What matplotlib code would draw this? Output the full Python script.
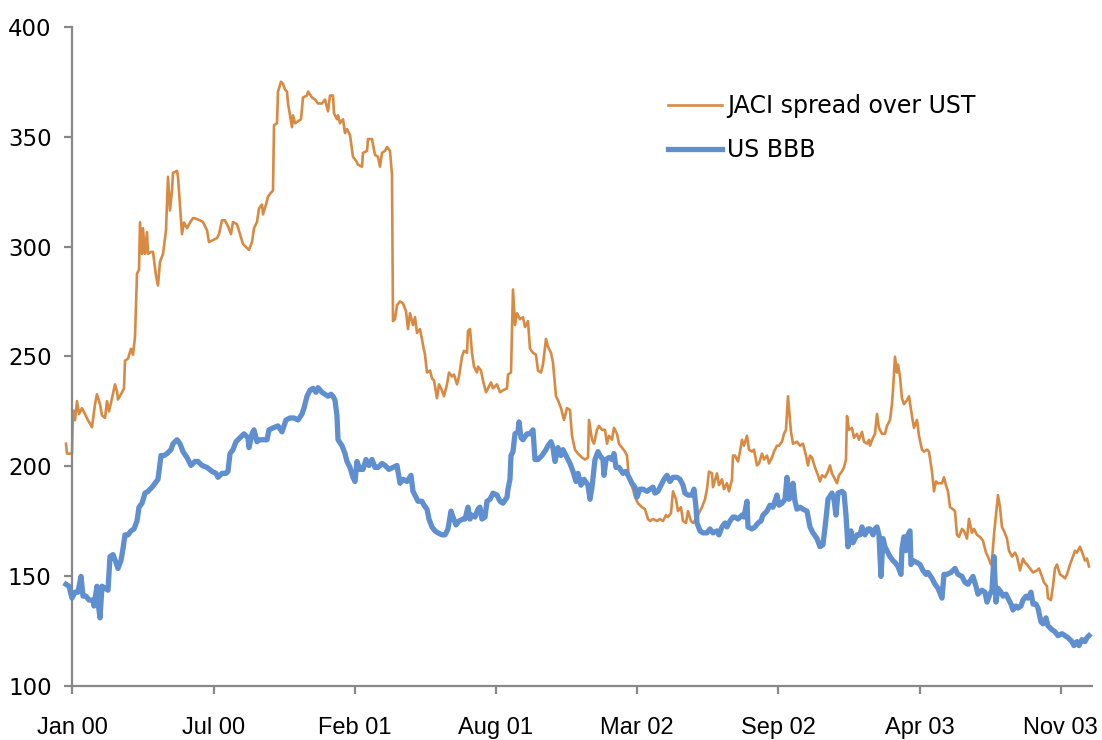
import matplotlib
matplotlib.use("Agg")
import matplotlib.pyplot as plt

# trading-day index (x) and spread in bp
jaci_x = [1, 2, 7, 8, 10, 12, 14, 17, 20, 23, 27, 30, 32, 35, 37, 40, 42, 44, 47, 50,
          52, 53, 57, 59, 60, 63, 66, 68, 70, 72, 74, 75, 77, 78, 80, 82, 83, 86, 88, 91,
          93, 95, 98, 101, 103, 105, 107, 108, 112, 113, 117, 119, 122, 125, 128, 130, 135, 138, 142, 144,
          148, 152, 154, 157, 160, 163, 166, 168, 172, 175, 178, 182, 184, 187, 189, 192, 194, 197, 198, 201,
          203, 206, 208, 209, 212, 213, 216, 218, 220, 222, 223, 225, 227, 228, 230, 233, 236, 238, 242, 243,
          247, 250, 253, 257, 260, 263, 265, 268, 269, 272, 273, 275, 278, 280, 282, 285, 288, 291, 293, 297,
          298, 302, 303, 307, 310, 313, 315, 317, 320, 322, 325, 327, 328, 330, 332, 335, 338, 341, 343, 345,
          348, 350, 352, 355, 358, 360, 362, 365, 367, 369, 372, 374, 377, 379, 382, 384, 387, 389, 392, 394,
          397, 399, 402, 403, 405, 407, 409, 412, 413, 416, 418, 421, 423, 426, 428, 432, 435, 438, 442, 443,
          446, 448, 450, 452, 455, 458, 460, 463, 465, 468, 471, 473, 476, 478, 481, 483, 486, 488, 491, 493,
          496, 499, 502, 505, 507, 510, 513, 517, 520, 523, 524, 527, 529, 532, 534, 537, 540, 542, 544, 547,
          549, 552, 554, 557, 560, 562, 564, 568, 570, 573, 577, 580, 583, 585, 588, 592, 595, 598, 601, 603,
          606, 608, 611, 613, 616, 618, 621, 623, 626, 628, 631, 633, 637, 640, 642, 644, 647, 648, 652, 654,
          657, 659, 662, 664, 667, 668, 670, 673, 675, 677, 679, 682, 684, 687, 689, 692, 694, 697, 699, 702,
          704, 707, 709, 712, 714, 717, 719, 721, 723, 724, 726, 728, 732, 735, 738, 741, 743, 745, 747, 750,
          753, 755, 757, 760, 763, 765, 767, 770, 772, 774, 777, 779, 781, 782, 784, 787, 789, 792, 794, 797,
          799, 802, 804, 805, 808, 810, 812, 814, 817, 820, 822, 825, 827, 828, 830, 832, 833, 835, 837, 839,
          842, 844, 847, 849, 852, 854, 857, 859, 862, 864, 867, 869, 871, 873, 877, 879, 881, 883, 885, 888,
          890, 892, 894, 897, 899, 902, 904, 907, 909, 912, 915, 918, 921, 923, 926, 927, 929, 931, 933, 935,
          937, 939, 942, 944, 947, 950, 952, 955, 958, 960, 962, 965, 968, 972, 974, 977, 979, 982, 983, 986,
          988, 990, 992, 995, 998, 1000, 1002, 1005, 1008, 1010, 1012, 1015, 1018, 1020, 1022, 1024]
jaci_y = [210.3, 205.8, 205.8, 225.6, 221, 229.7, 223.8, 226.5, 223.8, 221, 217.8, 228.3, 232.8, 228.3, 223.2, 222, 229.7, 225, 231, 237.3,
          234.1, 230.4, 233.7, 235.5, 248.1, 249, 253.5, 250.8, 258.9, 287.7, 289.5, 311.1, 296.7, 308.4, 296.7, 306.6, 296.7, 297.6, 297.6, 286.8,
          282.3, 293.1, 296.7, 307.5, 331.8, 316.5, 325.5, 333.6, 334.5, 331.8, 305.7, 311, 308.4, 311, 313, 312.9, 312, 311.2, 307.5, 302.1,
          303, 303.9, 305.7, 312, 312, 309.3, 305.7, 311.2, 310.2, 305.7, 301.2, 299.4, 298.5, 302.1, 308.4, 311.2, 317.4, 319.2, 314.7, 319.2,
          322.8, 324.6, 325.5, 355.3, 356.2, 370.6, 375.1, 374.2, 371.5, 370.6, 365.2, 359.8, 354.4, 359.8, 356.2, 357.1, 358, 367.9, 368.8, 370.6,
          367.9, 367, 365.2, 365.2, 367, 361.6, 368.8, 368.8, 360.7, 358, 359.8, 356.2, 358, 351.7, 353.5, 350.8, 340.9, 339.1, 337.3, 336.4,
          342.7, 343.6, 349, 349, 341.8, 340.9, 336.4, 342.7, 343.6, 345.4, 343.6, 332.7, 266.1, 267, 273.3, 275.1, 274.2, 270.6, 262.5, 269.7,
          264.3, 267.9, 260.7, 262.5, 255.3, 250.8, 242.7, 243.6, 240, 239.1, 231, 237.3, 234.6, 231.9, 237.3, 242.7, 240.9, 241.8, 237.3, 240.9,
          249.9, 252.6, 251.7, 261.6, 262.5, 251.7, 245.4, 242.7, 245.4, 243.6, 239.1, 233.7, 235.5, 238.2, 235.5, 237.3, 233.7, 234.6, 235.5, 241.8,
          242.7, 280.5, 264.3, 269.7, 267, 267.9, 263.4, 266.1, 253.5, 251.7, 250.8, 243.6, 242.7, 246.3, 258, 254.4, 251.7, 247.2, 231.9, 230.1,
          226.5, 221.1, 226.5, 225.6, 213.9, 207.6, 205.8, 204, 203.1, 204, 221.1, 212.1, 210.3, 216.6, 218.4, 216.6, 216.6, 210.3, 213.9, 212.1,
          217.5, 214.8, 210.3, 208.5, 206.7, 204.9, 194.1, 189.6, 186, 183.2, 181.4, 180.5, 176, 175.1, 176, 175.1, 176, 175.1, 177.8, 176.9,
          178.7, 188.6, 185, 179.6, 181.4, 175.1, 174.2, 179.6, 175.1, 174.2, 176, 177.8, 181.4, 185, 189.6, 197.6, 196.8, 190.5, 196.8, 191.4,
          194.1, 189.6, 192.3, 188.6, 194.1, 204.9, 204.9, 202.2, 206.7, 212.1, 209.4, 213.9, 207.6, 206.7, 207.6, 200.4, 201.3, 205.8, 203.1, 204.9,
          201.3, 204, 206.7, 209.4, 209.4, 211.2, 214.8, 216.6, 231.9, 226.5, 215.7, 210.3, 211.2, 209.4, 210.3, 204.9, 200.4, 204.9, 204, 199.5,
          195.9, 193.1, 195.9, 195, 197.7, 200.4, 196.8, 194.1, 192.3, 195.9, 197.7, 199.5, 203.1, 222.9, 216.6, 217.5, 213, 214.8, 212.1, 215.7,
          211.2, 210.3, 212.1, 209.4, 213, 214.8, 223.8, 217.5, 214.8, 214.8, 218.4, 221.1, 228.3, 234.6, 249.9, 242.7, 246.3, 240.9, 230.9, 228.3,
          230.1, 231.9, 222.9, 217.5, 221.1, 213.9, 207.6, 206.7, 207.6, 206.7, 197.7, 188.6, 193.1, 192.3, 192.3, 195, 191.4, 188.6, 181.4, 180.5,
          179.6, 168.8, 167.9, 171.5, 170.6, 167.1, 176.1, 169.7, 171.5, 168.8, 167.9, 166.1, 160.7, 158.9, 155.3, 157.1, 168.8, 177.8, 186.9, 181.4,
          172.4, 170.6, 167.1, 161.6, 158.9, 160.7, 158.9, 152.6, 158, 156.2, 155.3, 153.5, 151.7, 152.6, 153.5, 149.9, 147.2, 145.4, 140, 139.1,
          145.4, 153.5, 155.3, 150.8, 149.9, 149, 150.8, 155.3, 158.9, 161.6, 160.7, 163.4, 159.8, 157.1, 158, 154.4]

bbb_x = [1, 4, 7, 10, 13, 16, 18, 21, 24, 28, 29, 32, 33, 35, 37, 40, 43, 45, 48, 51,
         53, 56, 58, 60, 63, 66, 69, 72, 74, 77, 80, 83, 87, 90, 93, 96, 99, 102, 106, 108,
         112, 115, 118, 122, 126, 130, 133, 137, 142, 147, 151, 153, 157, 161, 163, 165, 168, 171, 175, 179,
         183, 184, 187, 189, 192, 194, 198, 202, 204, 208, 213, 217, 221, 225, 229, 233, 237, 239, 242, 245,
         248, 251, 253, 257, 260, 263, 266, 268, 270, 272, 273, 277, 280, 282, 285, 288, 290, 292, 295, 298,
         301, 304, 307, 310, 313, 317, 320, 324, 328, 332, 335, 338, 342, 346, 348, 351, 353, 357, 359, 362,
         364, 367, 370, 373, 377, 380, 383, 386, 388, 391, 394, 398, 400, 403, 405, 407, 410, 413, 415, 417,
         420, 422, 425, 428, 432, 435, 438, 442, 443, 445, 446, 448, 450, 453, 454, 456, 458, 462, 465, 468,
         470, 473, 477, 481, 483, 486, 488, 490, 493, 496, 498, 502, 505, 508, 511, 513, 516, 519, 523, 525,
         527, 530, 533, 535, 538, 539, 541, 544, 547, 549, 551, 554, 558, 561, 564, 567, 570, 572, 575, 578,
         582, 585, 588, 590, 593, 596, 599, 602, 605, 608, 612, 615, 618, 620, 623, 627, 629, 631, 632, 635,
         638, 642, 645, 648, 652, 654, 657, 660, 662, 665, 668, 670, 673, 677, 679, 682, 683, 687, 690, 693,
         696, 698, 702, 705, 708, 712, 714, 717, 720, 722, 724, 727, 728, 730, 732, 735, 738, 742, 745, 748,
         752, 755, 758, 761, 763, 767, 769, 771, 773, 777, 779, 781, 783, 786, 788, 792, 795, 797, 800, 803,
         805, 808, 810, 812, 814, 816, 818, 820, 822, 825, 828, 830, 833, 836, 837, 839, 841, 843, 845, 846,
         848, 852, 855, 858, 861, 863, 867, 870, 873, 877, 879, 882, 886, 890, 893, 897, 900, 903, 908, 911,
         913, 917, 920, 922, 925, 927, 929, 931, 933, 936, 938, 941, 943, 946, 948, 951, 953, 956, 958, 961,
         963, 966, 968, 971, 973, 976, 978, 981, 983, 987, 990, 993, 997, 1000, 1003, 1007, 1009, 1012, 1014, 1017,
         1020, 1022, 1024]
bbb_y = [146.3, 145.4, 140, 142.7, 142.7, 149.9, 140.9, 140.9, 139.1, 139.1, 136.4, 145.4, 138.2, 131, 145.4, 144.5, 143.6, 158.9, 159.8, 156.2,
         153.5, 157.1, 162.5, 168.8, 168.8, 170.6, 171.5, 175.1, 181.4, 183.2, 187.8, 188.6, 190.5, 192.3, 194.1, 204.9, 204.9, 205.8, 207.6, 210.3,
         212.1, 210.3, 206.7, 204, 200.4, 202.2, 202.2, 200.4, 199.5, 197.7, 196.8, 195, 196.8, 196.8, 197.7, 205.8, 207.6, 211.2, 213, 214.8,
         213, 208.5, 214.8, 216.6, 211.2, 212.1, 212.1, 212.1, 216.6, 217.5, 218.4, 215.7, 221.1, 222, 222, 221.1, 223.8, 226.5, 231.9, 234.6,
         235.5, 233.7, 235.8, 233.7, 232.8, 231.9, 232.8, 231.9, 230.1, 222.9, 212.1, 209.4, 205.8, 202.2, 199.5, 195, 193.1, 202.2, 198.6, 198.6,
         203.1, 200.4, 203.1, 199.5, 199.5, 201.3, 200.4, 198.6, 199.5, 200.4, 192.3, 194.1, 193.1, 195.9, 188.6, 186, 184.1, 184.1, 182.3, 180.5,
         176, 172.4, 170.6, 169.7, 168.8, 168.8, 171.5, 179.6, 176.9, 173.3, 175.1, 176, 176, 181.4, 176, 177.8, 176.9, 180.5, 181.4, 176,
         176.9, 184.1, 185, 187.8, 186.9, 184.1, 183.2, 185.9, 189.6, 194.1, 204.9, 206.7, 214.8, 215.7, 220.2, 213, 212.1, 214.8, 214.8, 216.6,
         203.1, 203.1, 204.9, 207.6, 209.4, 211.2, 208.5, 202.2, 208.5, 204.9, 207.6, 204, 201.3, 197.7, 193.1, 196.8, 191.4, 194.1, 191.4, 185,
         190.5, 203.1, 206.7, 204.9, 203.1, 195.9, 203.1, 204, 203.1, 205.8, 199.5, 199.5, 196.8, 197.7, 195, 192.3, 190.5, 186, 189.6, 189.6,
         188.6, 189.6, 190.5, 187.8, 188.6, 191.4, 194.1, 195.9, 193.1, 195, 195, 194.1, 191.4, 187.8, 186.9, 186.9, 189.6, 181.4, 174.2, 170.6,
         169.7, 169.7, 171.5, 169.7, 170.6, 168.8, 172.4, 174.2, 172.4, 175.1, 176.9, 176.9, 176, 177.8, 176.9, 184.1, 172.4, 171.5, 172.4, 174.2,
         175.1, 177.8, 179.6, 182.3, 181.4, 186.9, 182.3, 183.2, 185, 195, 185, 186.9, 192.3, 184.1, 180.5, 181.4, 180.5, 179.6, 172.4, 169.7,
         167.1, 163.4, 164.3, 176, 185, 187.8, 185, 177.8, 187.8, 188.6, 187.8, 177.8, 163.4, 170.6, 165.2, 168.8, 168.8, 172.4, 168.8, 171.5,
         171.5, 168.8, 171.5, 172.4, 168.8, 149.9, 167.1, 163.4, 161.6, 158.9, 157.1, 156.2, 154.4, 150.8, 162.5, 167.9, 161.6, 168.8, 170.6, 155.3,
         157.1, 156.2, 155.3, 152.6, 150.8, 151.7, 149, 146.3, 144.5, 140, 150.8, 150.8, 151.7, 153.5, 150.8, 149.9, 147.2, 146.3, 149.9, 145.4,
         141.8, 143.6, 142.7, 138.2, 141.8, 143.6, 158.9, 138.2, 144.5, 142.7, 140.9, 141.8, 140, 137.3, 134.6, 136.4, 135.5, 136.4, 139.1, 140.9,
         140, 142.7, 137.3, 137.3, 135.5, 129.2, 128.3, 131, 127.4, 125.6, 124.7, 122.9, 123.8, 122.9, 122, 120.2, 118.4, 120.2, 118.4, 121.1,
         120.2, 122, 122.9]

tick_pos = [7.4, 148.6, 289.8, 431.0, 572.2, 713.4, 854.6, 995.8]
tick_labels = ["Jan 00", "Jul 00", "Feb 01", "Aug 01", "Mar 02", "Sep 02", "Apr 03", "Nov 03"]

orange = "#D98A42"
blue = "#5F8FCF"
grey = "#888888"

fig = plt.figure(figsize=(11.02, 7.40), dpi=100)
ax = fig.add_axes([0.0657, 0.073, 0.9252, 0.8905])

ax.plot(jaci_x, jaci_y, color=orange, linewidth=1.9, label="JACI spread over UST",
        clip_on=False, zorder=2)
ax.plot(bbb_x, bbb_y, color=blue, linewidth=3.8, label="US BBB",
        clip_on=False, zorder=3)

ax.set_xlim(7.4, 1027)
ax.set_ylim(100, 400)
ax.set_yticks(range(100, 401, 50))
ax.set_xticks(tick_pos)
ax.set_xticklabels(tick_labels, family=["Liberation Sans", "DejaVu Sans"], fontsize=17)
for lab in ax.get_yticklabels():
    lab.set_family("DejaVu Sans")
    lab.set_fontsize(16.5)

for side in ["top", "right"]:
    ax.spines[side].set_visible(False)
for side in ["left", "bottom"]:
    ax.spines[side].set_color(grey)
    ax.spines[side].set_linewidth(1.6)
ax.tick_params(axis="both", direction="out", length=6, width=1.6, color=grey,
               labelcolor="black")
ax.tick_params(axis="x", pad=16)
ax.tick_params(axis="y", pad=9)

ax.legend(loc="upper left", bbox_to_anchor=(0.575, 0.913), frameon=False,
          prop={"family": "DejaVu Sans", "size": 17}, handlelength=2.3,
          handletextpad=0.2, labelspacing=0.85, borderaxespad=0)

plt.savefig("out.png", dpi=100)
